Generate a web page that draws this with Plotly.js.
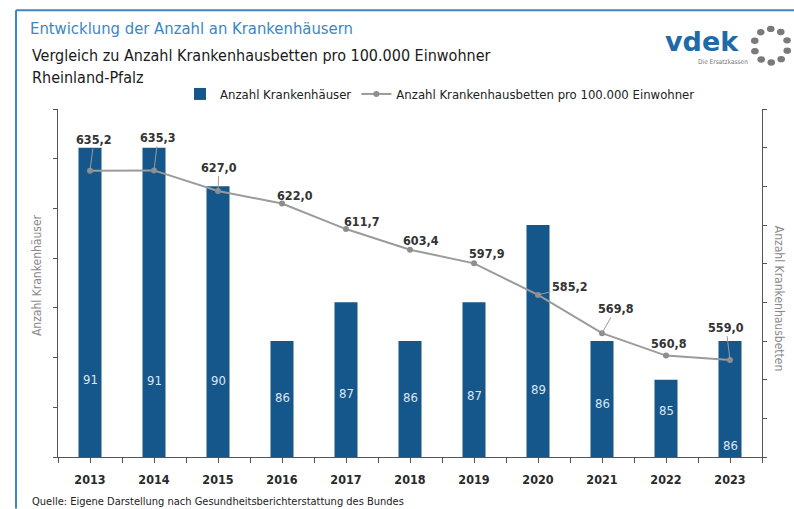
<!DOCTYPE html>
<html>
<head>
<meta charset="utf-8">
<script src="https://cdn.plot.ly/plotly-3.0.1.min.js"></script>
<style>
  html, body { margin: 0; padding: 0; background: #ffffff; }
  #chart { width: 794px; height: 509px; }
</style>
</head>
<body>
<div id="chart"></div>
<script>
// ---------- data ----------
const years = [2013, 2014, 2015, 2016, 2017, 2018, 2019, 2020, 2021, 2022, 2023];
const hospitals = [91, 91, 90, 86, 87, 86, 87, 89, 86, 85, 86];
const bedsPer100k = [635.2, 635.3, 627.0, 622.0, 611.7, 603.4, 597.9, 585.2, 569.8, 560.8, 559.0];
const seriesNames = ['Anzahl Krankenhäuser', 'Anzahl Krankenhausbetten pro 100.000 Einwohner'];
const titleText = 'Entwicklung der Anzahl an Krankenhäusern';
const subtitle1 = 'Vergleich zu Anzahl Krankenhausbetten pro 100.000 Einwohner';
const subtitle2 = 'Rheinland-Pfalz';
const leftTitle = 'Anzahl Krankenhäuser';
const rightTitle = 'Anzahl Krankenhausbetten';
const sourceText = 'Quelle: Eigene Darstellung nach Gesundheitsberichterstattung des Bundes';

// ---------- styling / placement (not data) ----------
const FONT = '"Liberation Sans Narrow", "DejaVu Sans Condensed", "Roboto Condensed", "Liberation Sans", sans-serif';
const BAR_COLOR = '#16578b';
const LINE_COLOR = '#9b9b9b';
const AXIS_COLOR = '#555555';
const FRAME_COLOR = '#3c87c8';
const M = { l: 58, r: 32, t: 105, b: 52 };
const PW = 794 - M.l - M.r, PH = 509 - M.t - M.b;
const px2x = px => (px - M.l) / PW;
const py2y = py => (509 - M.b - py) / PH;

// label offsets for the line values: [dx, dy, leader]
const lineLabelStyle = [
  [4, -31, true], [4, -33, true], [1, -24, true], [13, -8, false], [16, -8, false],
  [11, -9, false], [13, -10, false], [32, -8, true], [14, -25, true], [3, -12, false], [-4, -33, true]
];
// lift (px above the axis) of the count labels inside the bars
const barLabelLift = [78, 77, 77, 60, 64, 60, 62, 68, 54, 47, 12];

const fmt = v => v.toFixed(1).replace('.', ',');

const traces = [
  {
    type: 'bar', name: seriesNames[0], x: years, y: hospitals, yaxis: 'y',
    width: 0.36, marker: { color: BAR_COLOR }, hoverinfo: 'x+y'
  },
  {
    type: 'scatter', mode: 'lines+markers', name: seriesNames[1], x: years, y: bedsPer100k, yaxis: 'y2',
    line: { color: LINE_COLOR, width: 2 }, marker: { color: '#8e8e8e', size: 6 }
  }
];

const annotations = [];
years.forEach((yr, i) => {
  const s = lineLabelStyle[i];
  const a = {
    xref: 'x', yref: 'y2', x: yr, y: bedsPer100k[i], text: fmt(bedsPer100k[i]),
    font: { family: FONT, size: 12.5, color: '#333333', weight: 'bold' }
  };
  if (s[2]) {
    Object.assign(a, { showarrow: true, arrowhead: 0, arrowwidth: 1, arrowcolor: '#9b9b9b', ax: s[0], ay: s[1], standoff: 0 });
  } else {
    Object.assign(a, { showarrow: false, xshift: s[0], yshift: -s[1] });
  }
  annotations.push(a);
  annotations.push({
    xref: 'x', yref: 'paper', x: yr, y: 0, yanchor: 'middle', yshift: barLabelLift[i],
    text: String(hospitals[i]), showarrow: false,
    font: { family: FONT, size: 13, color: '#dce7f1' }
  });
});

annotations.push(
  { xref: 'paper', yref: 'paper', x: px2x(30), y: py2y(51), xanchor: 'left', yanchor: 'middle', showarrow: false,
    text: subtitle1, font: { family: FONT, size: 16, color: '#1a1a1a' } },
  { xref: 'paper', yref: 'paper', x: px2x(30), y: py2y(73), xanchor: 'left', yanchor: 'middle', showarrow: false,
    text: subtitle2, font: { family: FONT, size: 16, color: '#1a1a1a' } },
  { xref: 'paper', yref: 'paper', x: px2x(37), y: py2y(273), xanchor: 'center', yanchor: 'middle', textangle: -90, showarrow: false,
    text: leftTitle, font: { family: FONT, size: 12, color: '#8a8a8a' } },
  { xref: 'paper', yref: 'paper', x: px2x(779), y: py2y(296), xanchor: 'center', yanchor: 'middle', textangle: 90, showarrow: false,
    text: rightTitle, font: { family: FONT, size: 12, color: '#8a8a8a' } },
  { xref: 'paper', yref: 'paper', x: px2x(30), y: py2y(502), xanchor: 'left', yanchor: 'middle', showarrow: false,
    text: sourceText, font: { family: FONT, size: 11, color: '#222222' } },
  // logo
  { xref: 'paper', yref: 'paper', x: px2x(702), y: py2y(37), xanchor: 'center', yanchor: 'middle', showarrow: false,
    text: 'vdek', font: { family: '"DejaVu Sans", sans-serif', size: 27, color: '#1f6aa8', weight: 'bold' } },
  { xref: 'paper', yref: 'paper', x: px2x(723), y: py2y(57), xanchor: 'center', yanchor: 'middle', showarrow: false,
    text: 'Die Ersatzkassen', font: { family: FONT, size: 6.5, color: '#777777' } }
);

const shapes = [
  { type: 'line', xref: 'paper', yref: 'paper', x0: px2x(16), x1: px2x(794), y0: py2y(5), y1: py2y(5),
    line: { color: FRAME_COLOR, width: 2 } },
  { type: 'line', xref: 'paper', yref: 'paper', x0: px2x(16), x1: px2x(16), y0: py2y(5), y1: py2y(509),
    line: { color: FRAME_COLOR, width: 2 } }
];
// dotted ring of the logo
const ringC = [771, 41], ringR = 17, nDots = 10;
for (let k = 0; k < nDots; k++) {
  const ang = (k / nDots) * 2 * Math.PI + 0.3;
  const cx = ringC[0] + ringR * Math.cos(ang), cy = ringC[1] + ringR * Math.sin(ang);
  shapes.push({ type: 'circle', xref: 'paper', yref: 'paper',
    x0: px2x(cx - 3.8), x1: px2x(cx + 3.8), y0: py2y(cy - 3.2), y1: py2y(cy + 3.2),
    fillcolor: '#7a7a7a', line: { width: 0 } });
}

const layout = {
  width: 794, height: 509,
  margin: M,
  paper_bgcolor: '#ffffff', plot_bgcolor: '#ffffff',
  font: { family: FONT, size: 12, color: '#333333' },
  title: {
    text: titleText, xref: 'container', yref: 'container', x: 30 / 794, xanchor: 'left',
    y: 1 - 28 / 509, yanchor: 'middle',
    font: { family: FONT, size: 16.5, color: '#3a87c4' }
  },
  showlegend: true,
  legend: {
    orientation: 'h', xref: 'container', yref: 'container', x: 180 / 794, y: 1 - 79 / 509,
    xanchor: 'left', yanchor: 'top', font: { family: FONT, size: 13, color: '#222222' },
    bgcolor: 'rgba(0,0,0,0)', traceorder: 'normal'
  },
  xaxis: {
    type: 'linear', range: [2012.5, 2023.5], tick0: 2013, dtick: 1,
    showgrid: false, zeroline: false, showline: true, linecolor: AXIS_COLOR, linewidth: 1,
    ticks: 'outside', ticklen: 5, tickcolor: AXIS_COLOR,
    minor: { tick0: 2012.5, dtick: 1, ticks: 'outside', ticklen: 5, tickcolor: AXIS_COLOR, showgrid: false },
    tickfont: { family: FONT, size: 12.5, color: '#2a2a2a', weight: 'bold' }, ticklabelstandoff: 6
  },
  yaxis: {
    range: [83, 92], tick0: 83, dtick: 9 / 7, showticklabels: false,
    showgrid: false, zeroline: false, showline: true, linecolor: AXIS_COLOR, linewidth: 1,
    ticks: 'outside', ticklen: 4, tickcolor: AXIS_COLOR
  },
  yaxis2: {
    overlaying: 'y', side: 'right', range: [520, 660], tick0: 520, dtick: 140 / 9, showticklabels: false,
    showgrid: false, zeroline: false, showline: true, linecolor: AXIS_COLOR, linewidth: 1,
    ticks: 'outside', ticklen: 4, tickcolor: AXIS_COLOR
  },
  bargap: 0.64,
  annotations: annotations,
  shapes: shapes
};

Plotly.newPlot('chart', traces, layout, { displayModeBar: false, responsive: false });
</script>
</body>
</html>
